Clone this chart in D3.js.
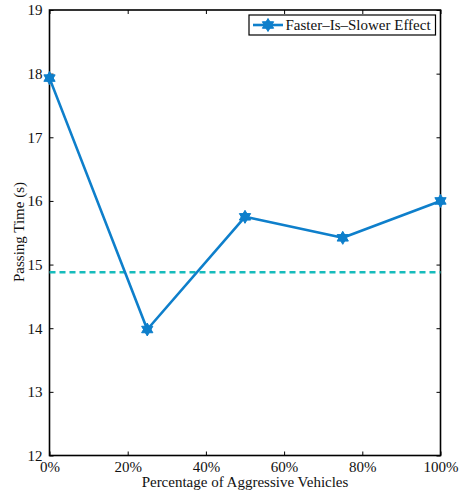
<!DOCTYPE html>
<html>
<head>
<meta charset="utf-8">
<script src="https://cdn.jsdelivr.net/npm/d3@7"></script>
<style>
  html, body { margin: 0; padding: 0; background: #fff; }
  svg { display: block; font-family: "Liberation Serif", "Times New Roman", serif; }
</style>
</head>
<body>
<svg id="chart" width="459" height="492"></svg>
<script>
// Share of aggressive vehicles (fraction) and the resulting passing time (s)
const shares = [0, 0.25, 0.5, 0.75, 1.0];
const passingTime = [17.93, 13.98, 15.75, 15.42, 16.0];
// Reference level drawn as a dashed horizontal line
const baselineTime = 14.88;
const xTicks = [0, 0.2, 0.4, 0.6, 0.8, 1.0];
const yTicks = [12, 13, 14, 15, 16, 17, 18, 19];
const seriesName = "Faster\u2013Is\u2013Slower Effect";

const svg = d3.select("#chart");
const margin = { left: 49.5, top: 10, right: 459 - 440.5, bottom: 492 - 455.5 };
const W = 459, H = 492;
const x = d3.scaleLinear().domain([0, 1]).range([margin.left, W - margin.right]);
const y = d3.scaleLinear().domain([12, 19]).range([H - margin.bottom, margin.top]);

const lineColor = "#0E7FCB";
const dashColor = "#16BCBC";
const tickLen = 4;
const serif = "'Liberation Serif', serif";

// Bottom axis (inside ticks)
const xAxis = d3.axisBottom(x).tickValues(xTicks)
  .tickFormat(d => Math.round(d * 100) + "%")
  .tickSizeInner(-tickLen).tickSizeOuter(0).tickPadding(8);
const gx = svg.append("g").attr("transform", `translate(0,${y(12)})`).call(xAxis);
// Top axis mirror
const gxt = svg.append("g").attr("transform", `translate(0,${y(19)})`)
  .call(d3.axisTop(x).tickValues(xTicks).tickFormat("").tickSizeInner(-tickLen).tickSizeOuter(0));
// Left axis
const yAxis = d3.axisLeft(y).tickValues(yTicks).tickFormat(d3.format("d"))
  .tickSizeInner(-tickLen).tickSizeOuter(0).tickPadding(7);
const gy = svg.append("g").attr("transform", `translate(${x(0)},0)`).call(yAxis);
// Right axis mirror
const gyr = svg.append("g").attr("transform", `translate(${x(1)},0)`)
  .call(d3.axisRight(y).tickValues(yTicks).tickFormat("").tickSizeInner(-tickLen).tickSizeOuter(0));

[gx, gxt, gy, gyr].forEach(g => {
  g.attr("font-family", null);
  g.select(".domain").remove();
  g.selectAll(".tick line").attr("stroke", "#000").attr("stroke-width", 1);
  g.selectAll(".tick text").attr("fill", "#111").style("font-size", "15px")
    .style("font-family", serif);
});
gx.selectAll(".tick text").attr("dy", "0.55em");

// Plot box
svg.append("rect")
  .attr("x", x(0)).attr("y", y(19))
  .attr("width", x(1) - x(0)).attr("height", y(12) - y(19))
  .attr("fill", "none").attr("stroke", "#000").attr("stroke-width", 1.6);

// Dashed reference line
svg.append("line")
  .attr("x1", x(0)).attr("x2", x(1))
  .attr("y1", y(baselineTime)).attr("y2", y(baselineTime))
  .attr("stroke", dashColor).attr("stroke-width", 2.6)
  .attr("stroke-dasharray", "6,4");

// Series line
const pts = shares.map((s, i) => [s, passingTime[i]]);
svg.append("path")
  .datum(pts)
  .attr("fill", "none")
  .attr("stroke", lineColor)
  .attr("stroke-width", 2.6)
  .attr("stroke-linejoin", "round")
  .attr("d", d3.line().x(d => x(d[0])).y(d => y(d[1])));

// Hexagram marker
function hexagram(r) {
  const tri = a0 => d3.range(3).map(k => {
    const a = a0 + k * 2 * Math.PI / 3;
    return [r * Math.sin(a), -r * Math.cos(a)];
  });
  const t1 = tri(0), t2 = tri(Math.PI);
  return "M" + t1.join("L") + "Z M" + t2.join("L") + "Z";
}
svg.append("g").selectAll("path")
  .data(pts).join("path")
  .attr("transform", d => `translate(${x(d[0])},${y(d[1])})`)
  .attr("d", hexagram(6.5))
  .attr("fill", lineColor)
  .attr("stroke", lineColor)
  .attr("stroke-width", 1)
  .attr("stroke-linejoin", "round");

// Axis titles
svg.append("text")
  .attr("x", x(0.5)).attr("y", 487)
  .attr("text-anchor", "middle")
  .style("font-size", "15px").style("font-family", serif).attr("fill", "#111")
  .text("Percentage of Aggressive Vehicles");
svg.append("text")
  .attr("transform", `translate(24,232) rotate(-90)`)
  .attr("text-anchor", "middle")
  .style("font-size", "15px").style("font-family", serif).attr("fill", "#111")
  .text("Passing Time (s)");

// Legend
const lg = svg.append("g").attr("transform", "translate(249,15)");
lg.append("rect").attr("width", 186.5).attr("height", 20)
  .attr("fill", "#fff").attr("stroke", "#000").attr("stroke-width", 1.2);
lg.append("line").attr("x1", 4).attr("x2", 34).attr("y1", 10).attr("y2", 10)
  .attr("stroke", lineColor).attr("stroke-width", 2.6);
lg.append("path").attr("transform", "translate(19,10)").attr("d", hexagram(6.5))
  .attr("fill", lineColor).attr("stroke", lineColor).attr("stroke-width", 1);
lg.append("text").attr("x", 36.5).attr("y", 15)
  .style("font-size", "15px").style("font-family", serif).attr("fill", "#111")
  .text(seriesName);
</script>
</body>
</html>
